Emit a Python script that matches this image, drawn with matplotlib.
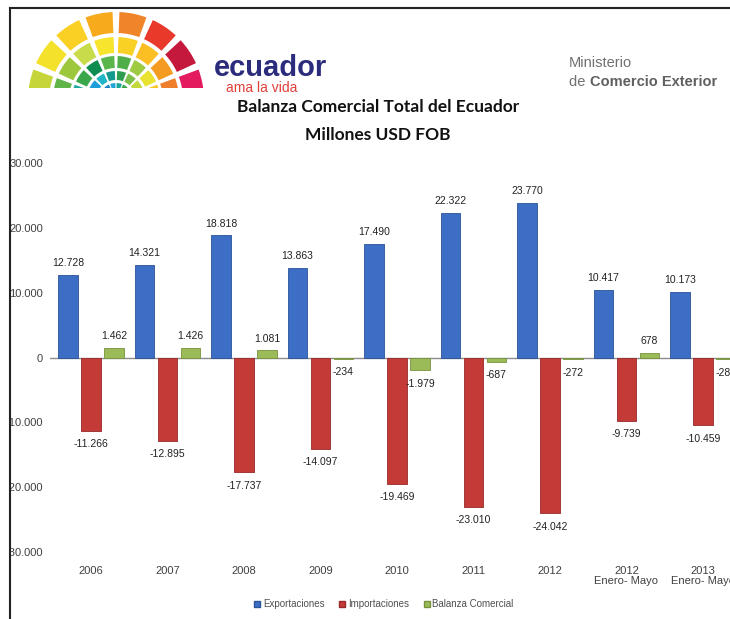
import numpy as np
import matplotlib
matplotlib.use("Agg")
import matplotlib.pyplot as plt
from matplotlib.patches import Wedge, Rectangle
from matplotlib.lines import Line2D

plt.rcParams['font.family'] = ['Liberation Sans', 'DejaVu Sans']

#----------- DATA -----------#
categories = ['2006', '2007', '2008', '2009', '2010', '2011', '2012',
              '2012\nEnero- Mayo', '2013\nEnero- Mayo']
exportaciones = [12728, 14321, 18818, 13863, 17490, 22322, 23770, 10417, 10173]
importaciones = [-11266, -12895, -17737, -14097, -19469, -23010, -24042, -9739, -10459]
balanza = [1462, 1426, 1081, -234, -1979, -687, -272, 678, -286]
series_names = ['Exportaciones', 'Importaciones', 'Balanza Comercial']
yticks = [-30000, -20000, -10000, 0, 10000, 20000, 30000]

colors = ['#3b6ec4', '#c43a36', '#9bbb59']
edges = ['#2a5298', '#98282a', '#76923c']

W, H = 730, 619
fig = plt.figure(figsize=(W / 100, H / 100), dpi=100)

def fmt(v):
    return '{:,}'.format(v).replace(',', '.')

#----------- CHART -----------#
ax = fig.add_axes([50 / W, 1 - 552 / H, 680 / W, 389 / H])
x = np.arange(len(categories))
bw = 0.25
off = 0.30
all_series = [exportaciones, importaciones, balanza]
for k, vals in enumerate(all_series):
    bars = ax.bar(x + (k - 1) * off, vals, bw, color=colors[k],
                  edgecolor=edges[k], linewidth=0.6, zorder=3)
    for b, v in zip(bars, vals):
        if v >= 0:
            ax.annotate(fmt(v), (b.get_x() + b.get_width() / 2, v),
                        xytext=(0, 5), textcoords='offset points',
                        ha='center', va='bottom', fontsize=7.5, color='#222222')
        else:
            ax.annotate(fmt(v), (b.get_x() + b.get_width() / 2, v),
                        xytext=(0, -6), textcoords='offset points',
                        ha='center', va='top', fontsize=7.5, color='#222222')

ax.axhline(0, color='#8c8c8c', linewidth=1, zorder=2)
ax.set_ylim(-30000, 30000)
ax.set_xlim((50 - 91) / 76.5, (730 - 91) / 76.5)
ax.set_yticks(yticks)
ax.set_yticklabels([fmt(v) for v in yticks], fontsize=8, color='#404040')
ax.set_xticks(x)
ax.set_xticklabels(categories, fontsize=8, color='#404040', linespacing=1.05)
ax.tick_params(axis='both', length=0)
ax.tick_params(axis='y', pad=5)
ax.tick_params(axis='x', pad=10)
for s in ax.spines.values():
    s.set_visible(False)

#----------- TITLE -----------#
fig.text(378 / W, 1 - 107 / H, 'Balanza Comercial Total del Ecuador',
         ha='center', va='center', fontsize=12.5, fontweight='bold',
         family=['Lato', 'DejaVu Sans'], color='#111111')
fig.text(378 / W, 1 - 135 / H, 'Millones USD FOB',
         ha='center', va='center', fontsize=12.5, fontweight='bold',
         family=['Lato', 'DejaVu Sans'], color='#111111')

#----------- LOGO -----------#
lax = fig.add_axes([0, 0, 1, 1], zorder=-1)
lax.set_xlim(0, W)
lax.set_ylim(H, 0)
lax.axis('off')
rings = [
    (88, 21, ['#c6d63a', '#f4e12c', '#fbd024', '#f8aa1d', '#f0842a', '#e8392b', '#c4183c', '#e31b5f']),
    (63, 16, ['#5fb548', '#9dc83d', '#c8db4a', '#f6e42d', '#f9d024', '#fbbf24', '#f49b22', '#ef7e2c']),
    (44, 12, ['#1ea9a0', '#3aa74a', '#0f8c52', '#5ab54a', '#4fae48', '#9fcb43', '#e9e230', '#f8c624']),
    (29, 9, ['#2f5fb0', '#1c9fd8', '#22b5c8', '#15998e', '#2e9d4f', '#7cc04a', '#c3d83b', '#f2d72a']),
    (17, 7, ['#2c3a8f', '#2f4fa6', '#1a7fc5', '#20a5d8', '#19a79a', '#3aa74a', '#8bc53f', '#c9dc3a']),
]
cx, cy = 116, 100
for r, w, cols in rings:
    n = len(cols)
    step = 180.0 / n
    gap = step * 0.2
    for i, c in enumerate(cols):
        t1 = 180 - (i + 1) * step + gap / 2
        t2 = 180 - i * step - gap / 2
        lax.add_patch(Wedge((cx, cy), r, -t2, -t1, width=w, facecolor=c,
                            edgecolor='none'))
lax.add_patch(Rectangle((0, 88), 220, 20, facecolor='white', edgecolor='none'))
lax.text(214, 76, 'ecuador', fontsize=21, color='#2b2c7c', fontweight='bold',
         ha='left', va='baseline')
lax.text(226, 92, 'ama la vida', fontsize=10, color='#e0403a',
         ha='left', va='baseline')
lax.text(569, 67, 'Ministerio', fontsize=10.5, color='#707070',
         ha='left', va='baseline')
t = lax.text(569, 86, 'de ', fontsize=10.5, color='#707070',
             ha='left', va='baseline')
lax.annotate('Comercio Exterior', xycoords=t, xy=(1, 0), va='bottom',
             fontsize=10.5, color='#606060', fontweight='bold')

#----------- LEGEND -----------#
handles = [Line2D([], [], marker='s', linestyle='none', markersize=4.5,
                  markerfacecolor=colors[k], markeredgecolor=edges[k])
           for k in range(3)]
fig.legend(handles, series_names, loc='center', ncol=3,
           bbox_to_anchor=(383 / W, 1 - 604 / H), frameon=False,
           fontsize=7, handletextpad=0.1, columnspacing=1.3,
           handlelength=1.0, labelcolor='#505050')

#----------- BORDER -----------#
fig.patches.append(Rectangle((0, 0), 10 / W, 1, transform=fig.transFigure,
                             facecolor='white', edgecolor='none', zorder=10))
fig.lines.append(Line2D([10 / W, 10 / W], [0, 1 - 8 / H], transform=fig.transFigure,
                        color='#222222', linewidth=1.5, zorder=11))
fig.lines.append(Line2D([10 / W, 1], [1 - 8 / H, 1 - 8 / H], transform=fig.transFigure,
                        color='#222222', linewidth=1.5, zorder=11))

fig.savefig('out.png', dpi=100)
